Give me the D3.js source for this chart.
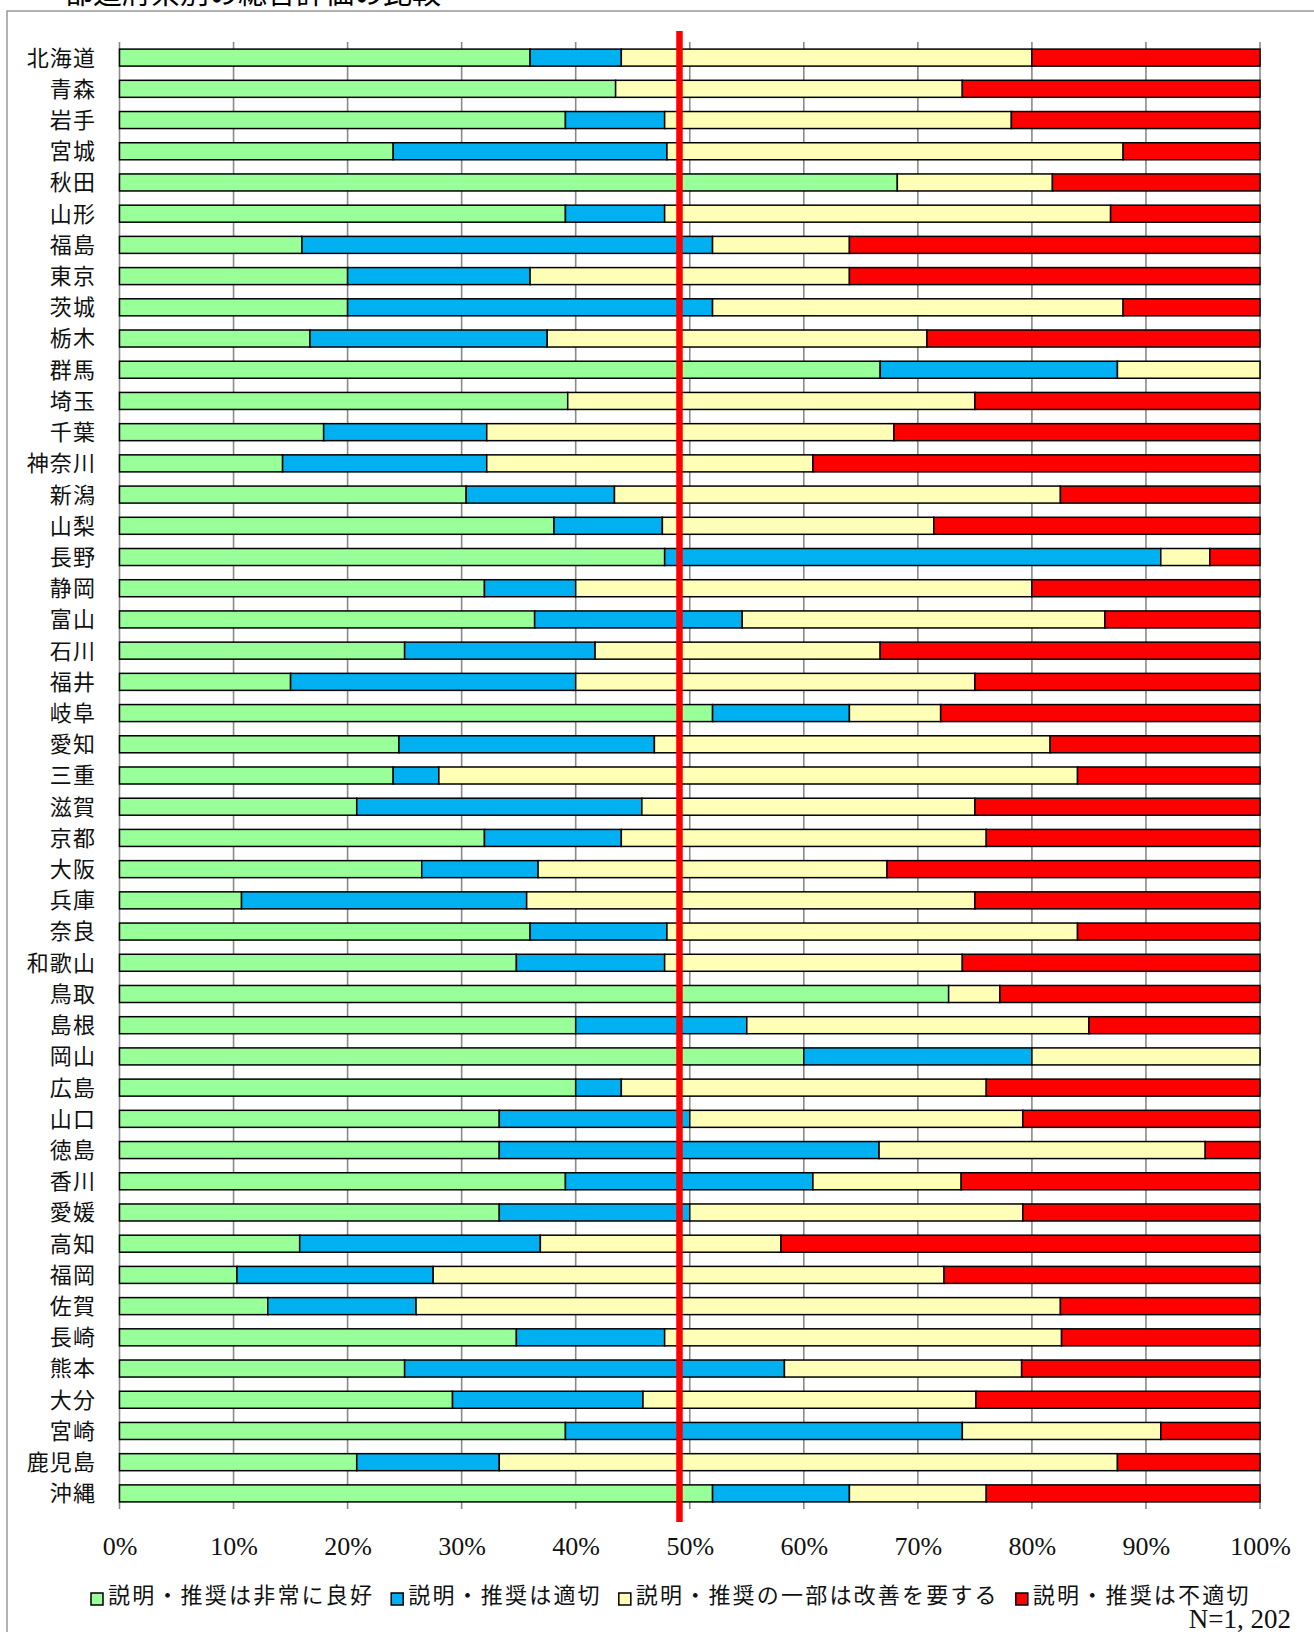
<!DOCTYPE html>
<html>
<head>
<meta charset="utf-8">
<script src="https://cdn.jsdelivr.net/npm/d3@7"></script>
<style>
  html, body { margin: 0; padding: 0; background: #fff; }
  svg { display: block; }
</style>
</head>
<body>
<svg id="chart" width="1314" height="1632"></svg>
<script>
// ---------------- data ----------------
const titleText = "都道府県別の総合評価の比較";
const categories = ["北海道","青森","岩手","宮城","秋田","山形","福島","東京","茨城","栃木",
  "群馬","埼玉","千葉","神奈川","新潟","山梨","長野","静岡","富山","石川",
  "福井","岐阜","愛知","三重","滋賀","京都","大阪","兵庫","奈良","和歌山",
  "鳥取","島根","岡山","広島","山口","徳島","香川","愛媛","高知","福岡",
  "佐賀","長崎","熊本","大分","宮崎","鹿児島","沖縄"];
// 説明・推奨は非常に良好 (%)
const veryGood = [36,43.5,39.1,24,68.2,39.1,16,20,20,16.7,
  66.7,39.3,17.9,14.3,30.4,38.1,47.8,32,36.4,25,
  15,52,24.5,24,20.8,32,26.5,10.7,36,34.8,
  72.7,40,60,40,33.3,33.3,39.1,33.3,15.8,10.3,
  13.0,34.8,25,29.2,39.1,20.8,52];
// 説明・推奨は適切 (%)
const appropriate = [8,0,8.7,24,0,8.7,36,16,32,20.8,
  20.8,0,14.3,17.9,13.0,9.5,43.5,8,18.2,16.7,
  25,12,22.4,4,25,12,10.2,25,12,13.0,
  0,15,20,4,16.7,33.3,21.7,16.7,21.1,17.2,
  13.0,13.0,33.3,16.7,34.8,12.5,12];
// 説明・推奨の一部は改善を要する (%)
const needsImprovement = [36,30.4,30.4,40,13.6,39.1,12,28,36,33.3,
  12.5,35.7,35.7,28.6,39.1,23.8,4.3,40,31.8,25,
  35,8,34.7,56,29.2,32,30.6,39.3,36,26.1,
  4.5,30,20,32,29.2,28.6,13.0,29.2,21.1,44.8,
  56.5,34.8,20.8,29.2,17.4,54.2,12];
// 説明・推奨は不適切 (%)
const inappropriate = [20,26.1,21.8,12,18.2,13.1,36,36,12,29.2,
  0,25,32.1,39.2,17.5,28.6,4.4,20,13.6,33.3,
  25,28,18.4,16,25,24,32.7,25,16,26.1,
  22.8,15,0,24,20.8,4.8,26.2,20.8,42.0,27.7,
  17.5,17.4,20.9,24.9,8.7,12.5,24];
const seriesNames = ["説明・推奨は非常に良好","説明・推奨は適切","説明・推奨の一部は改善を要する","説明・推奨は不適切"];
const seriesColors = ["#99FF99","#00B0F0","#FFFFB7","#FF0000"];
const xTicks = [0,10,20,30,40,50,60,70,80,90,100];
const referenceLine = 49.1; // red vertical reference line (%)
const sampleNote = "N=1, 202";

// ---------------- layout ----------------
const svg = d3.select("#chart");
const plot = { left: 119.5, right: 1260, top: 42, bottom: 1509 };

// outer frame
svg.append("rect")
  .attr("x", 7).attr("y", 11)
  .attr("width", 1330).attr("height", 1650)
  .attr("fill", "none").attr("stroke", "#999").attr("stroke-width", 1.5);

// title (mostly cut off at top, as in the reference)
svg.append("text")
  .attr("x", 64).attr("y", 3.5)
  .attr("font-family", "'Noto Sans CJK JP', sans-serif")
  .attr("font-size", 29)
  .attr("fill", "#000")
  .text(titleText);

const keys = ["s0","s1","s2","s3"];
const table = categories.map((c, i) => ({
  cat: c, s0: veryGood[i], s1: appropriate[i], s2: needsImprovement[i], s3: inappropriate[i]
}));
const stacked = d3.stack().keys(keys)(table);

const x = d3.scaleLinear().domain([0, 100]).range([plot.left, plot.right]).clamp(true);
const y = d3.scaleBand().domain(categories).range([plot.top, plot.bottom])
  .paddingInner(0.455).paddingOuter(0.2275);

// gridlines
svg.append("g").selectAll("line")
  .data(xTicks)
  .join("line")
  .attr("x1", d => x(d)).attr("x2", d => x(d))
  .attr("y1", plot.top).attr("y2", plot.bottom)
  .attr("stroke", "#8a8a8a").attr("stroke-width", 1.6);

// bars
svg.append("g").selectAll("g")
  .data(stacked)
  .join("g")
  .attr("fill", (d, i) => seriesColors[i])
  .selectAll("rect")
  .data(d => d.filter(v => v[1] - v[0] > 0))
  .join("rect")
  .attr("x", d => x(d[0]))
  .attr("width", d => x(d[1]) - x(d[0]))
  .attr("y", d => y(d.data.cat))
  .attr("height", y.bandwidth())
  .attr("stroke", "#000").attr("stroke-width", 1.5);

// category labels
svg.append("g").selectAll("text")
  .data(categories)
  .join("text")
  .attr("x", 96)
  .attr("y", d => y(d) + y.bandwidth() / 2)
  .attr("dy", "0.36em")
  .attr("text-anchor", "end")
  .attr("font-family", "'Noto Sans CJK JP', sans-serif")
  .attr("font-size", 22)
  .attr("letter-spacing", 1.1)
  .attr("fill", "#111")
  .text(d => d);

// x axis labels
const xAxis = d3.axisBottom(x).tickValues(xTicks).tickSize(0).tickFormat(d => d + "%");
const gx = svg.append("g").attr("transform", `translate(0,${plot.bottom})`).call(xAxis);
gx.select(".domain").remove();
gx.selectAll("text")
  .attr("y", 46).attr("dy", 0)
  .attr("font-family", "'Liberation Serif', serif")
  .attr("font-size", 26)
  .attr("fill", "#111");

// red reference line
svg.append("line")
  .attr("x1", x(referenceLine)).attr("x2", x(referenceLine))
  .attr("y1", 31).attr("y2", 1522)
  .attr("stroke", "#FF0000").attr("stroke-width", 6.5);

// legend
const legend = svg.append("g");
let lx = 91;
seriesNames.forEach((name, i) => {
  legend.append("rect")
    .attr("x", lx).attr("y", 1593)
    .attr("width", 12).attr("height", 12)
    .attr("fill", seriesColors[i]).attr("stroke", "#000").attr("stroke-width", 1.5);
  const t = legend.append("text")
    .attr("x", lx + 17).attr("y", 1595)
    .attr("dy", "0.36em")
    .attr("font-family", "'Noto Sans CJK JP', sans-serif")
    .attr("font-size", 22)
    .attr("letter-spacing", 2.2)
    .attr("fill", "#111")
    .text(name);
  lx = lx + 17 + t.node().getComputedTextLength() + 17;
});

// sample size note
svg.append("text")
  .attr("x", 1291).attr("y", 1628)
  .attr("text-anchor", "end")
  .attr("font-family", "'Liberation Serif', serif")
  .attr("font-size", 27)
  .attr("fill", "#111")
  .text(sampleNote);
</script>
</body>
</html>
